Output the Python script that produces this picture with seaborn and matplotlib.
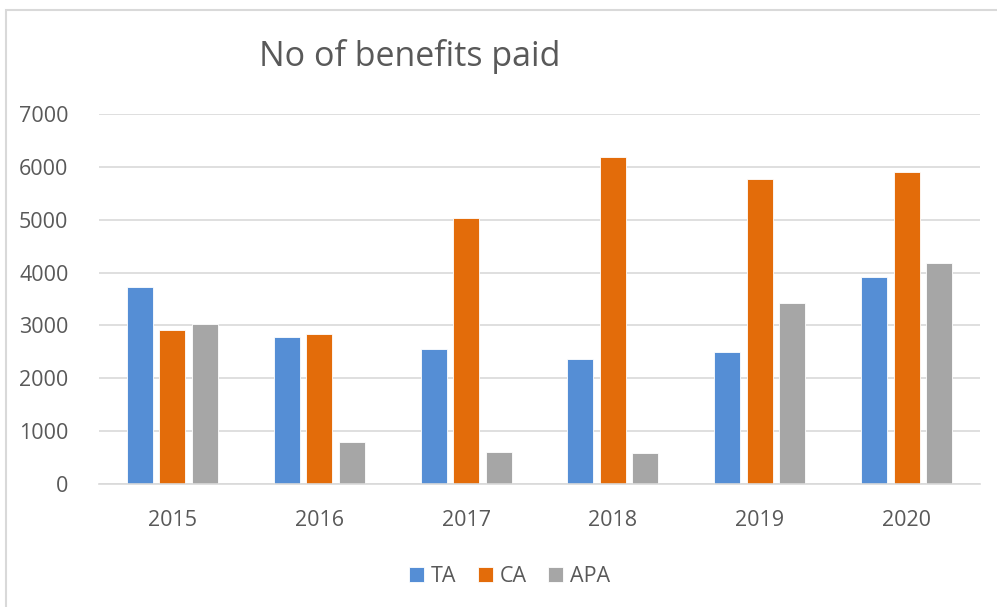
import pandas as pd
import matplotlib.pyplot as plt
import seaborn as sns
from matplotlib.patches import Rectangle

# data
years = ["2015", "2016", "2017", "2018", "2019", "2020"]
ta = [3727, 2776, 2556, 2361, 2493, 3915]
ca = [2921, 2833, 5030, 6188, 5766, 5898]
apa = [3028, 799, 611, 579, 3418, 4174]
series = ["TA", "CA", "APA"]
colors = ["#558ED5", "#E36C0A", "#A6A6A6"]

df = pd.DataFrame({"Year": years, "TA": ta, "CA": ca, "APA": apa})
long_df = df.melt(id_vars="Year", var_name="Benefit", value_name="Count")

sns.set_style("white")
plt.rcParams["font.family"] = ["Open Sans", "DejaVu Sans"]
text_color = "#595959"

fig = plt.figure(figsize=(9.97, 6.07), dpi=100)
ax = fig.add_axes([99 / 997, 1 - 484 / 607, (980 - 99) / 997, (484 - 114) / 607])

sns.barplot(data=long_df, x="Year", y="Count", hue="Benefit", hue_order=series,
            palette=colors, width=0.664, gap=0.2, saturation=1,
            edgecolor="white", linewidth=0.6, ax=ax)

ax.set_ylim(0, 7000)
ax.set_xlim(-0.5, len(years) - 0.5)
ax.set_yticks(range(0, 7001, 1000))
ax.yaxis.grid(True, color="#D9D9D9", linewidth=1.2)
ax.set_axisbelow(True)
for side in ["left", "right", "top"]:
    ax.spines[side].set_visible(False)
ax.spines["bottom"].set_color("#D9D9D9")
ax.spines["bottom"].set_linewidth(1.2)
ax.tick_params(axis="both", length=0, labelsize=15.5, labelcolor=text_color)
ax.tick_params(axis="y", pad=22)
ax.tick_params(axis="x", pad=19)
ax.set_xlabel("")
ax.set_ylabel("")

leg = ax.legend(loc="upper center", bbox_to_anchor=(0.466, -0.17), ncol=3, frameon=False,
                fontsize=15.5, handlelength=0.7, handleheight=0.7, handletextpad=0.3,
                columnspacing=1.0, labelcolor=text_color)

fig.text(259 / 997, 1 - 57 / 607, "No of benefits paid", fontsize=24.5, color=text_color,
         ha="left", va="center")

# chart frame (only top and left edges are inside the picture)
fig.patches.append(Rectangle((6 / 997, -0.1), 1.2, 1 - 10 / 607 + 0.1, transform=fig.transFigure,
                             fill=False, edgecolor="#D9D9D9", linewidth=1.5))

fig.savefig("out.png", dpi=100)
